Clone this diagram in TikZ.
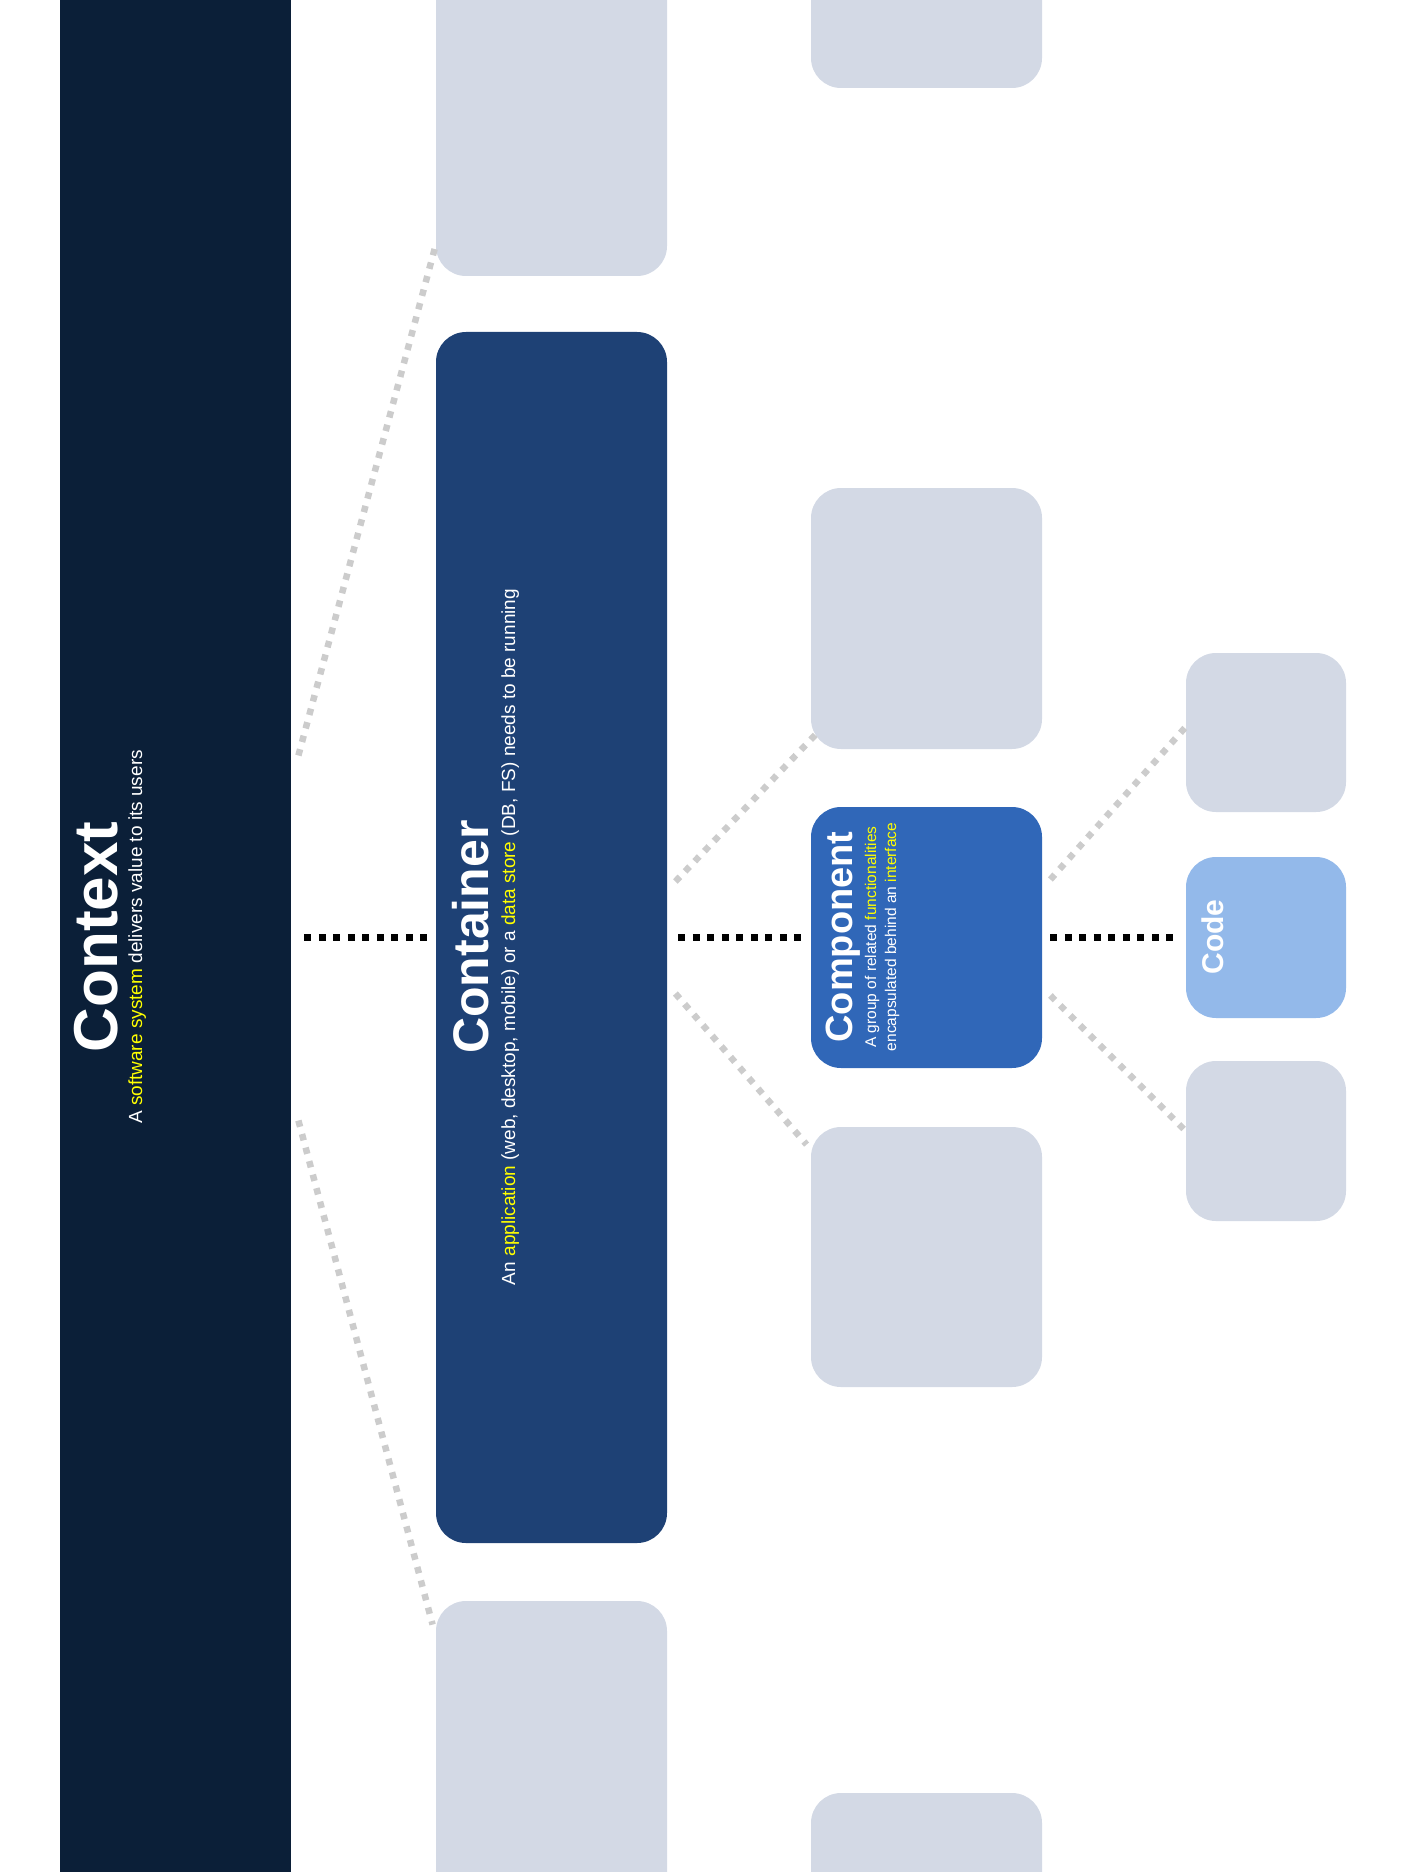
\documentclass[tikz,border=0pt]{standalone}
\usepackage{fontspec}
\setmainfont{Liberation Sans}
\usepackage{tikz}
\usetikzlibrary{calc}
\definecolor{mnavy}{rgb}{0.043, 0.122, 0.22}
\definecolor{mcont}{rgb}{0.118, 0.255, 0.459}
\definecolor{mcomp}{rgb}{0.188, 0.404, 0.722}
\definecolor{mcode}{rgb}{0.576, 0.725, 0.918}
\definecolor{mgrey}{rgb}{0.827, 0.851, 0.898}
\definecolor{mdot}{rgb}{0.8, 0.8, 0.8}
\definecolor{myellow}{rgb}{1, 1, 0}
\tikzset{box/.style = {rounded corners = 15pt, inner sep = 0, minimum width = 115.5pt}}
\tikzset{smallbox/.style = {box, minimum width = 80pt}}
\tikzset{greybox/.style = {fill = mgrey}}
\tikzset{title/.style = {rotate = 90, anchor = base, text = white, inner sep = 0}}
\tikzset{blink/.style = {black, line width = 3.5pt, dash pattern = on 3.5pt off 3.75pt}}
\tikzset{glink/.style = {mdot, line width = 3.25pt, dash pattern = on 3.25pt off 3.75pt}}
\newcommand{\hl}[1]{\textcolor{myellow}{#1}}
\newcommand{\fsz}[2]{\fontsize{#1}{#2}\selectfont}

\begin{document}
\begin{tikzpicture}[x = 0.5pt, y = -0.5pt]
  \useasboundingbox (0, 0) rectangle (1404, 1872);
  \clip (0, 0) rectangle (1404, 1872);
  % context band
  \node [fill = mnavy, inner sep = 0, minimum width = 115.5pt, minimum height = 960pt] (ctx) at (175.5, 937.5) {};
  % second column
  \node [box, greybox, minimum height = 288pt] (c2top) at (551.5, -12) {};
  \node [box, fill = mcont, minimum height = 605.5pt] (cont) at (551.5, 937.5) {};
  \node [box, greybox, minimum height = 299.5pt] (c2bot) at (551.5, 1900.5) {};
  % third column
  \node [box, greybox, minimum height = 144pt] (c3top) at (926.5, -56) {};
  \node [box, greybox, minimum height = 130.5pt] (c3up) at (926.5, 618.5) {};
  \node [box, fill = mcomp, minimum height = 130.5pt] (comp) at (926.5, 937.5) {};
  \node [box, greybox, minimum height = 130pt] (c3dn) at (926.5, 1257) {};
  \node [box, greybox, minimum height = 153.5pt] (c3bot) at (926.5, 1946.5) {};
  % fourth column
  \node [smallbox, greybox, minimum height = 79.5pt] (c4up) at (1266, 732.5) {};
  \node [smallbox, fill = mcode, minimum height = 80.5pt] (code) at (1266, 937.5) {};
  \node [smallbox, greybox, minimum height = 80pt] (c4dn) at (1266, 1141) {};

  % texts
  \node [title, font = \bfseries\fsz{31}{36}] (ctxtitle) at (117, 937) {Context};
  \node [title, font = \fsz{9.5}{11}] (ctxsub) at (142, 937) {A \hl{software system} delivers value to its users};
  \node [title, font = \bfseries\fsz{25}{30}] (conttitle) at (488, 937) {Container};
  \node [title, font = \fsz{9.5}{11}] (contsub) at (515, 937) {An \hl{application} (web, desktop, mobile) or a \hl{data store} (DB, FS) needs to be running};
  \node [title, font = \bfseries\fsz{19}{22}] (comptitle) at (852, 937) {Component};
  \node [title, font = \fsz{7.75}{10}] (compsuba) at (876, 937) {A group of related \hl{functionalities}};
  \node [title, font = \fsz{7.75}{10}] (compsubb) at (896, 937) {encapsulated behind an \hl{interface}};
  \node [title, font = \bfseries\fsz{15}{18}] (codetitle) at (1223, 937) {Code};

  % zoom-in links
  \draw [blink, shorten <= 6.5pt, shorten >= 4pt] (ctx.east) -- (cont.west);
  \draw [blink, shorten <= 5.5pt, shorten >= 5pt] (cont.east) -- (comp.west);
  \draw [blink, shorten <= 4pt, shorten >= 4pt] (comp.east) -- (code.west);
  \draw [glink] ($(ctx.east) + (7, -182)$) -- ($(c2top.south west) + (0, -31)$);
  \draw [glink] ($(ctx.east) + (7, 183)$) -- ($(c2bot.north west) + (-3, 24)$);
  \draw [glink] ($(cont.east) + (8, -56)$) -- ($(c3up.south west) + (7, -17)$);
  \draw [glink] ($(cont.east) + (8, 56)$) -- ($(c3dn.north west) + (-4, 18)$);
  \draw [glink] ($(comp.east) + (8, -58)$) -- ($(c4up.west) + (4, -10)$);
  \draw [glink] ($(comp.east) + (8, 58)$) -- ($(c4dn.west) + (2, -8)$);
\end{tikzpicture}
\end{document}
